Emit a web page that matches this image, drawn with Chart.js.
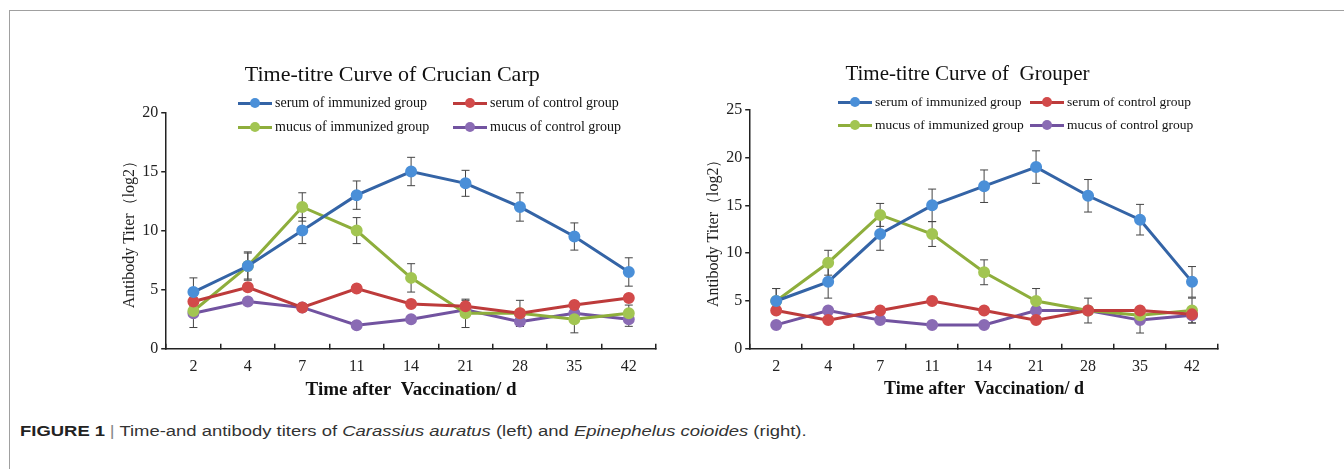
<!DOCTYPE html>
<html>
<head>
<meta charset="utf-8">
<script src="https://cdn.jsdelivr.net/npm/chart.js@4"></script>
<style>
  html, body { margin: 0; padding: 0; background: #fff; }
  body { width: 1344px; height: 469px; position: relative; overflow: hidden; }
  .frame { position: absolute; left: 9px; top: 10px; width: 1400px; height: 500px;
           border-top: 1px solid #a0a0a0; border-left: 1px solid #a0a0a0; }
  .chart { position: absolute; top: 55px; height: 351px; }
  .legend-item { position: absolute; height: 18px; line-height: 18px; white-space: nowrap;
                 font-family: "Liberation Serif", serif; font-size: 14px; color: #111; }
  .key { position: relative; display: inline-block; width: 34px; height: 18px; vertical-align: top; }
  .key .ln { position: absolute; left: 0; right: 0; top: 8px; height: 3px; }
  .key .dot { position: absolute; left: 12px; top: 4px; width: 10px; height: 10px; border-radius: 50%; }
  .legend-item .txt { margin-left: 3px; }
  .caption { position: absolute; left: 20px; top: 422px; font-family: "Liberation Sans", Arial, sans-serif;
             font-size: 15.5px; color: #333; white-space: nowrap;
             transform: scaleX(1.19); transform-origin: left center; }
  .caption b { color: #222; }
  .caption .bar { color: #888; margin: 0 4px; }
</style>
</head>
<body>
<div class="frame"></div>
<div class="chart" style="left:112px;width:554px;"><canvas id="carp"></canvas></div>
<div class="chart" style="left:696px;width:532px;"><canvas id="grouper"></canvas></div>
<div id="legends"></div>
<div class="caption"><b>FIGURE 1</b><span class="bar">|</span>Time-and antibody titers of <i>Carassius auratus</i> (left) and <i>Epinephelus coioides</i> (right).</div>

<script>
// days after vaccination
const days = ['2', '4', '7', '11', '14', '21', '28', '35', '42'];

const seriesNames = ['serum of immunized group', 'serum of control group', 'mucus of immunized group', 'mucus of control group'];
const lineColors = ['#3464a6', '#bd3b3b', '#8eae3c', '#7253a0'];
const dotColors = ['#4a8fd8', '#d24a4a', '#a2c552', '#8a6bb4'];

// crucian carp, antibody titer (log2)
const carpSerumImm = [4.8, 7, 10, 13, 15, 14, 12, 9.5, 6.5];
const carpSerumCtrl = [4.0, 5.2, 3.5, 5.1, 3.8, 3.6, 3.0, 3.7, 4.3];
const carpMucusImm = [3.2, 7, 12, 10, 6, 3, 3, 2.5, 3];
const carpMucusCtrl = [3.0, 4.0, 3.5, 2.0, 2.5, 3.3, 2.3, 3.0, 2.5];
const carpSerumImmErr = [1.2, 1.2, 1.1, 1.2, 1.2, 1.1, 1.2, 1.15, 1.2];
const carpSerumCtrlErr = [0.3, 0.3, 0.3, 0.3, 0.3, 0.5, 0.3, 0.3, 0.3];
const carpMucusImmErr = [0.3, 1.1, 1.2, 1.1, 1.2, 1.2, 1.1, 1.15, 0.7];
const carpMucusCtrlErr = [1.2, 0.3, 0.3, 0.3, 0.3, 0.3, 0.4, 0.3, 0.6];

// grouper, antibody titer (log2)
const grouperSerumImm = [5, 7, 12, 15, 17, 19, 16, 13.5, 7];
const grouperSerumCtrl = [4, 3, 4, 5, 4, 3, 4, 4, 3.6];
const grouperMucusImm = [5, 9, 14, 12, 8, 5, 4, 3.5, 4];
const grouperMucusCtrl = [2.5, 4, 3, 2.5, 2.5, 4, 4, 3, 3.5];
const grouperSerumImmErr = [1.3, 1.7, 1.7, 1.7, 1.7, 1.7, 1.7, 1.6, 1.6];
const grouperSerumCtrlErr = [0.3, 0.3, 0.3, 0.3, 0.3, 0.3, 0.3, 0.3, 0.3];
const grouperMucusImmErr = [1.3, 1.3, 1.2, 1.3, 1.3, 1.3, 1.3, 0.3, 1.3];
const grouperMucusCtrlErr = [0.3, 0.3, 0.3, 0.3, 0.3, 0.3, 0.3, 1.35, 0.8];

const serif = 'Liberation Serif';

// draws the +/- error bars under the lines
const errorBars = {
    id: 'errorBars',
    beforeDatasetsDraw(chart) {
        const ctx = chart.ctx;
        const y = chart.scales.y;
        ctx.save();
        ctx.strokeStyle = '#444';
        ctx.lineWidth = 1;
        chart.data.datasets.forEach((ds, i) => {
            chart.getDatasetMeta(i).data.forEach((pt, j) => {
                const e = ds.errors[j];
                const top = y.getPixelForValue(ds.data[j] + e);
                const bot = y.getPixelForValue(ds.data[j] - e);
                ctx.beginPath();
                ctx.moveTo(pt.x, top); ctx.lineTo(pt.x, bot);
                ctx.moveTo(pt.x - 4, top); ctx.lineTo(pt.x + 4, top);
                ctx.moveTo(pt.x - 4, bot); ctx.lineTo(pt.x + 4, bot);
                ctx.stroke();
            });
        });
        ctx.restore();
    }
};

function makeDatasets(values, errors) {
    return values.map((v, i) => ({
        label: seriesNames[i],
        data: v,
        errors: errors[i],
        borderColor: lineColors[i],
        backgroundColor: dotColors[i],
        pointBackgroundColor: dotColors[i],
        pointBorderColor: dotColors[i],
        borderWidth: 3,
        pointRadius: 4.5,
        tension: 0,
    }));
}

function makeChart(id, opt, values, errors) {
    return new Chart(document.getElementById(id), {
        type: 'line',
        data: { labels: days, datasets: makeDatasets(values, errors) },
        plugins: [errorBars],
        options: {
            responsive: true,
            maintainAspectRatio: false,
            animation: false,
            layout: { padding: { left: 0, right: 10, top: 0, bottom: opt.bottomPad } },
            scales: {
                x: {
                    offset: true,
                    border: { color: '#222', width: 1.5 },
                    grid: { offset: true, drawOnChartArea: false, tickLength: -5, color: '#222', lineWidth: 1.5 },
                    ticks: { padding: 13, color: '#222', font: { family: serif, size: 16 } },
                    title: {
                        display: true,
                        text: 'Time after  Vaccination/ d',
                        color: '#111',
                        padding: { top: -10.4, bottom: 1.5 },
                        font: { family: serif, size: opt.xTitleSize, weight: 'bold' }
                    }
                },
                y: {
                    min: 0,
                    max: opt.yMax,
                    border: { color: '#222', width: 1.5 },
                    grid: { drawOnChartArea: false, tickLength: 5, color: '#222', lineWidth: 1.5 },
                    ticks: { stepSize: 5, padding: 3, color: '#222', font: { family: serif, size: 16 } },
                    title: {
                        display: true,
                        text: 'Antibody Titer（log2）',
                        color: '#222',
                        padding: { top: 8, bottom: 0 },
                        font: { family: serif, size: 16 }
                    }
                }
            },
            plugins: {
                legend: { display: false },
                tooltip: { enabled: false },
                title: {
                    display: true,
                    text: opt.title,
                    color: '#111',
                    padding: { top: 7, bottom: opt.titleGap },
                    font: { family: serif, size: opt.titleSize, weight: 'normal' }
                }
            }
        }
    });
}

// leading spaces nudge the centred title to the right, as in the original figure
makeChart('carp',
    { title: '   Time-titre Curve of Crucian Carp', titleSize: 22, titleGap: 24, yMax: 20, xTitleSize: 19, bottomPad: 3.1 },
    [carpSerumImm, carpSerumCtrl, carpMucusImm, carpMucusCtrl],
    [carpSerumImmErr, carpSerumCtrlErr, carpMucusImmErr, carpMucusCtrlErr]);

makeChart('grouper',
    { title: '    Time-titre Curve of  Grouper', titleSize: 21, titleGap: 22.5, yMax: 25, xTitleSize: 18, bottomPad: 4.3 },
    [grouperSerumImm, grouperSerumCtrl, grouperMucusImm, grouperMucusCtrl],
    [grouperSerumImmErr, grouperSerumCtrlErr, grouperMucusImmErr, grouperMucusCtrlErr]);

// legends sit inside the plot area, two columns by two rows
function addLegend(cols, rows, size) {
    const host = document.getElementById('legends');
    seriesNames.forEach((name, i) => {
        const item = document.createElement('div');
        item.className = 'legend-item';
        item.style.left = cols[i % 2] + 'px';
        item.style.top = (rows[Math.floor(i / 2)] - 9) + 'px';
        item.style.fontSize = size + 'px';
        item.innerHTML = '<span class="key"><span class="ln" style="background:' + lineColors[i] +
            '"></span><span class="dot" style="background:' + dotColors[i] + '"></span></span>' +
            '<span class="txt">' + name + '</span>';
        host.appendChild(item);
    });
}
addLegend([238, 453], [103, 127], 14);
addLegend([838, 1030], [102, 125], 13.5);
</script>
</body>
</html>
